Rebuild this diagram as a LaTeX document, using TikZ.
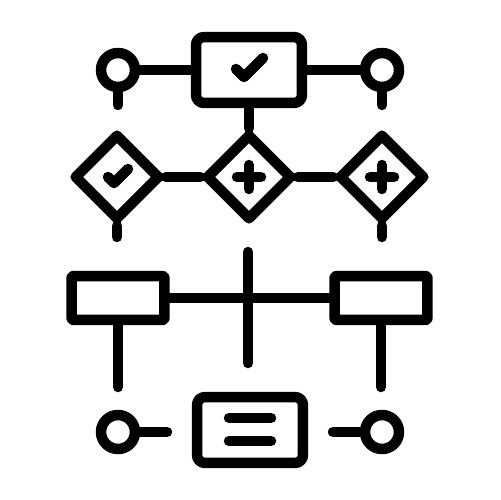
\documentclass[tikz,border=0pt]{standalone}
\usetikzlibrary{shapes.geometric}

\tikzset{
  box/.style={draw, rectangle, rounded corners=0.16cm, minimum width=2.12cm, minimum height=1.32cm, inner sep=0pt},
  slot/.style={draw, rectangle, rounded corners=0.04cm, minimum width=1.86cm, minimum height=0.88cm, inner sep=0pt},
  gate/.style={draw, diamond, minimum width=1.74cm, minimum height=1.74cm, inner sep=0pt},
  pin/.style={draw, circle, minimum size=0.68cm, inner sep=0pt},
}

\begin{document}
\begin{tikzpicture}[x=0.02cm, y=-0.02cm, line width=0.21cm, line cap=round, line join=round]
  \useasboundingbox (0,0) rectangle (500,500);
  % top row
  \node[box] (top) at (249,70) {};
  \node[pin] (pinNW) at (118,70) {};
  \node[pin] (pinNE) at (382,70) {};
  \coordinate (footNW) at (118,105);
  \coordinate (footNE) at (382,105);
  \draw (pinNW) -- (top);
  \draw (top) -- (pinNE);
  \draw (pinNW) -- (footNW);
  \draw (pinNE) -- (footNE);
  \draw ([shift={(-13,-1)}]top.center) -- ([shift={(-5,7)}]top.center) -- ([shift={(14,-12)}]top.center);
  % diamonds
  \node[gate] (gateL) at (117,177) {};
  \node[gate] (gateC) at (249,177) {};
  \node[gate] (gateR) at (382,177) {};
  \coordinate (footL) at (117,237);
  \coordinate (footR) at (382,237);
  \draw (top) -- (gateC);
  \draw (gateL) -- (gateC);
  \draw (gateC) -- (gateR);
  \draw (gateL) -- (footL);
  \draw (gateR) -- (footR);
  \draw ([shift={(-9,0)}]gateL.center) -- ([shift={(-3,6)}]gateL.center) -- ([shift={(11,-8)}]gateL.center);
  \foreach \g in {gateC,gateR} {
    \draw ([shift={(-12,0)}]\g.center) -- ([shift={(12,0)}]\g.center);
    \draw ([shift={(0,-12)}]\g.center) -- ([shift={(0,12)}]\g.center);
  }
  % bars
  \node[slot] (slotL) at (118,298) {};
  \node[slot] (slotR) at (381,298) {};
  \coordinate (crossT) at (248,252);
  \coordinate (crossB) at (248,363);
  \coordinate (legL) at (118,387);
  \coordinate (legR) at (381,387);
  \draw (slotL) -- (slotR);
  \draw (crossT) -- (crossB);
  \draw (slotL) -- (legL);
  \draw (slotR) -- (legR);
  % bottom row
  \node[box] (bot) at (250,430) {};
  \node[pin] (pinSW) at (118,432) {};
  \node[pin] (pinSE) at (382,432) {};
  \coordinate (tailSW) at (167,432);
  \coordinate (tailSE) at (333,432);
  \draw (pinSW) -- (tailSW);
  \draw (tailSE) -- (pinSE);
  \draw ([shift={(-21,-12)}]bot.center) -- ([shift={(21,-12)}]bot.center);
  \draw ([shift={(-21,11)}]bot.center) -- ([shift={(21,11)}]bot.center);
\end{tikzpicture}
\end{document}
